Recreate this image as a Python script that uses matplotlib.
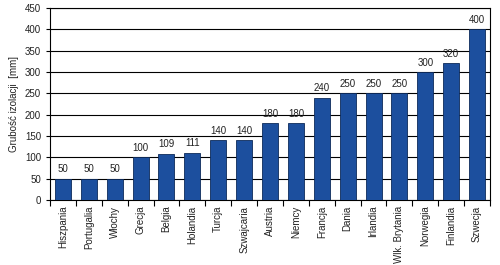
import matplotlib
matplotlib.use("Agg")
import matplotlib.pyplot as plt

countries = ["Hiszpania", "Portugalia", "Włochy", "Grecja", "Belgia", "Holandia",
             "Turcja", "Szwajcaria", "Austria", "Niemcy", "Francja", "Dania",
             "Irlandia", "Wlk. Brytania", "Norwegia", "Finlandia", "Szwecja"]
thickness = [50, 50, 50, 100, 109, 111, 140, 140, 180, 180, 240, 250, 250, 250, 300, 320, 400]

plt.rcParams['font.family'] = ['Liberation Sans', 'DejaVu Sans']

fig = plt.figure(figsize=(5, 2.65), dpi=100)
ax = fig.add_axes([0.1, 0.245, 0.88, 0.725])

x = range(len(countries))
ax.bar(x, thickness, width=0.62, color='#1c4f9e', edgecolor='#0d2a5a', linewidth=0.6, zorder=3)
for i, v in enumerate(thickness):
    ax.text(i, v + 10, str(v), ha='center', va='bottom', fontsize=7, color='#222222')

ax.set_xlim(-0.5, len(countries) - 0.5)
ax.set_ylim(0, 450)
ax.set_yticks(range(0, 451, 50))
ax.yaxis.grid(True, color='black', linewidth=0.8, zorder=0)
ax.set_xticks([i - 0.5 for i in range(len(countries) + 1)], minor=False)
ax.set_xticklabels([])
ax.set_xticks(list(x), minor=True)
ax.set_xticklabels(countries, minor=True, rotation=90, fontsize=7, color='#222222')
ax.tick_params(axis='x', which='minor', length=0, pad=4)
ax.tick_params(axis='x', which='major', length=4, width=0.8)
ax.tick_params(axis='y', length=3, width=0.8, labelsize=7, labelcolor='#222222')
ax.set_ylabel("Grubość izolacji  [mm]", fontsize=7, color='#222222')
for s in ax.spines.values():
    s.set_linewidth(0.8)

fig.savefig("out.png", dpi=100)
